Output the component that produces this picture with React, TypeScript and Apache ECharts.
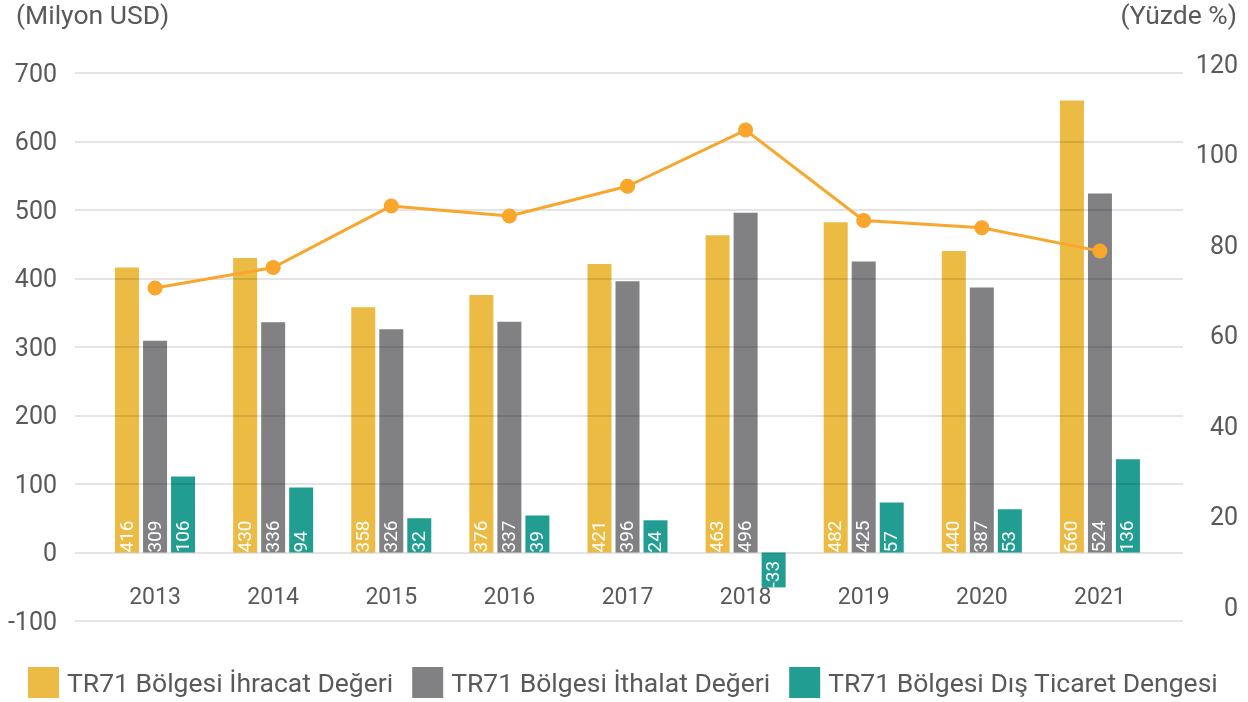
import React, { useEffect, useRef } from 'react';
import * as echarts from 'echarts';

const years = ['2013', '2014', '2015', '2016', '2017', '2018', '2019', '2020', '2021'];
const exportsValues = [416, 430, 358, 376, 421, 463, 482, 440, 660];
const importsValues = [309, 336, 326, 337, 396, 496, 425, 387, 524];
// printed balance labels
const balanceLabels = [106, 94, 32, 39, 24, -33, 57, 53, 136];
// balance bar heights as drawn in the picture
const balanceBars = [111, 95, 50, 54, 47, -51, 73, 63, 136];
const coverageValues = [72.9, 77.4, 90.9, 88.7, 95.2, 107.5, 87.7, 86.1, 81.0];
const seriesNames = [
  'TR71 Bölgesi İhracat Değeri',
  'TR71 Bölgesi İthalat Değeri',
  'TR71 Bölgesi Dış Ticaret Dengesi',
];

export default function App() {
  const ref = useRef<HTMLDivElement>(null);
  useEffect(() => {
    document.body.style.margin = '0';
    const chart = echarts.init(ref.current!, null, { renderer: 'svg' });
    const font = 'Roboto, "Noto Sans", sans-serif';
    const textColor = '#595959';
    const barLabel = {
      show: true,
      position: ['50%', '100%'],
      rotate: 90,
      align: 'left',
      verticalAlign: 'middle',
      offset: [0, -1],
      color: '#ffffff',
      fontSize: 19,
      fontFamily: font,
      overflow: 'none',
    };
    chart.setOption({
      animation: false,
      textStyle: { fontFamily: font },
      grid: [
        { left: 96, right: 89, top: 73, bottom: 81 },
        { left: 75, right: 65, top: 73, bottom: 81 },
        { left: 75, right: 65, top: 64, bottom: 95 },
      ],
      xAxis: [
        {
          type: 'category',
          gridIndex: 0,
          data: years,
          axisLine: { show: false, onZero: false },
          axisTick: { show: false },
          axisLabel: { margin: -36, fontSize: 23, color: textColor, fontFamily: font },
        },
        { type: 'value', gridIndex: 1, show: false, min: 0, max: 1 },
        { type: 'value', gridIndex: 2, show: false, min: 0, max: 1 },
      ],
      yAxis: [
        { type: 'value', gridIndex: 0, min: -100, max: 700, interval: 100, show: false },
        { type: 'value', gridIndex: 0, min: 0, max: 120, interval: 20, show: false },
        {
          type: 'value',
          gridIndex: 1,
          min: -100,
          max: 700,
          interval: 100,
          z: 10,
          position: 'left',
          axisLine: { show: false },
          axisTick: { show: false },
          axisLabel: { margin: 18, fontSize: 25, color: textColor, fontFamily: font },
          splitLine: { show: true, lineStyle: { color: 'rgba(0,0,0,0.14)', width: 1.5 } },
        },
        {
          type: 'value',
          gridIndex: 2,
          min: 0,
          max: 120,
          interval: 20,
          position: 'right',
          axisLine: { show: false },
          axisTick: { show: false },
          splitLine: { show: false },
          axisLabel: { margin: 55, align: 'right', fontSize: 25, color: textColor, fontFamily: font },
        },
      ],
      legend: {
        data: seriesNames,
        left: 28,
        top: 667,
        padding: 0,
        itemWidth: 31,
        itemHeight: 31,
        itemGap: 19,
        icon: 'rect',
        textStyle: { fontSize: 26.5, color: textColor, fontFamily: font, padding: [0, 0, 0, 3] },
      },
      graphic: [
        { type: 'text', left: 16, top: 1, style: { text: '(Milyon USD)', fontSize: 26.5, fill: textColor, fontFamily: font } },
        { type: 'text', right: 11, top: 1, style: { text: '(Yüzde %)', fontSize: 26.5, fill: textColor, fontFamily: font } },
      ],
      series: [
        {
          name: seriesNames[0], type: 'bar', xAxisIndex: 0, yAxisIndex: 0, data: exportsValues,
          barWidth: 24, barGap: '16.7%', itemStyle: { color: '#EBBB44' }, label: barLabel, z: 2,
        },
        {
          name: seriesNames[1], type: 'bar', xAxisIndex: 0, yAxisIndex: 0, data: importsValues,
          barWidth: 24, barGap: '16.7%', itemStyle: { color: '#818184' }, label: barLabel, z: 2,
        },
        {
          name: seriesNames[2], type: 'bar', xAxisIndex: 0, yAxisIndex: 0, data: balanceBars,
          barWidth: 24, barGap: '16.7%', itemStyle: { color: '#229D91' }, z: 2,
          label: { ...barLabel, formatter: (p: any) => String(balanceLabels[p.dataIndex]) },
        },
        {
          name: 'Oran', type: 'line', xAxisIndex: 0, yAxisIndex: 1, data: coverageValues,
          symbol: 'circle', symbolSize: 15, z: 12,
          lineStyle: { color: '#F8A62C', width: 3 }, itemStyle: { color: '#F8A62C' },
        },
      ],
    });
    return () => chart.dispose();
  }, []);
  return <div ref={ref} style={{ width: 1248, height: 702, position: 'fixed', left: 0, top: 0 }} />;
}
